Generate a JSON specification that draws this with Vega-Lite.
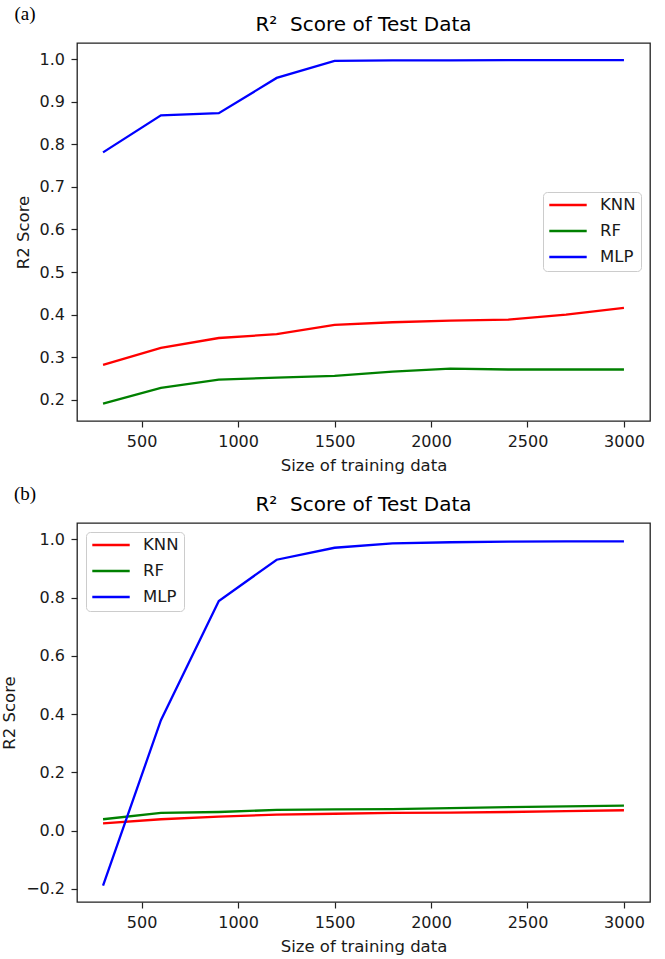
{
  "$schema": "https://vega.github.io/schema/vega-lite/v6.json",
  "background": "white",
  "padding": {"left": 0, "top": 5, "right": 5, "bottom": 0},
  "spacing": 10,
  "datasets": {
    "a": [
      {"size": 300, "model": "KNN", "r2": 0.282}, {"size": 600, "model": "KNN", "r2": 0.322}, {"size": 900, "model": "KNN", "r2": 0.345}, {"size": 1200, "model": "KNN", "r2": 0.354}, {"size": 1500, "model": "KNN", "r2": 0.376}, {"size": 1800, "model": "KNN", "r2": 0.382}, {"size": 2100, "model": "KNN", "r2": 0.386}, {"size": 2400, "model": "KNN", "r2": 0.388}, {"size": 2700, "model": "KNN", "r2": 0.400}, {"size": 3000, "model": "KNN", "r2": 0.416},
      {"size": 300, "model": "RF", "r2": 0.191}, {"size": 600, "model": "RF", "r2": 0.228}, {"size": 900, "model": "RF", "r2": 0.247}, {"size": 1200, "model": "RF", "r2": 0.252}, {"size": 1500, "model": "RF", "r2": 0.256}, {"size": 1800, "model": "RF", "r2": 0.266}, {"size": 2100, "model": "RF", "r2": 0.273}, {"size": 2400, "model": "RF", "r2": 0.271}, {"size": 2700, "model": "RF", "r2": 0.271}, {"size": 3000, "model": "RF", "r2": 0.271},
      {"size": 300, "model": "MLP", "r2": 0.781}, {"size": 600, "model": "MLP", "r2": 0.868}, {"size": 900, "model": "MLP", "r2": 0.873}, {"size": 1200, "model": "MLP", "r2": 0.956}, {"size": 1500, "model": "MLP", "r2": 0.996}, {"size": 1800, "model": "MLP", "r2": 0.997}, {"size": 2100, "model": "MLP", "r2": 0.997}, {"size": 2400, "model": "MLP", "r2": 0.998}, {"size": 2700, "model": "MLP", "r2": 0.998}, {"size": 3000, "model": "MLP", "r2": 0.998}
    ],
    "b": [
      {"size": 300, "model": "KNN", "r2": 0.025}, {"size": 600, "model": "KNN", "r2": 0.039}, {"size": 900, "model": "KNN", "r2": 0.048}, {"size": 1200, "model": "KNN", "r2": 0.055}, {"size": 1500, "model": "KNN", "r2": 0.058}, {"size": 1800, "model": "KNN", "r2": 0.061}, {"size": 2100, "model": "KNN", "r2": 0.062}, {"size": 2400, "model": "KNN", "r2": 0.064}, {"size": 2700, "model": "KNN", "r2": 0.067}, {"size": 3000, "model": "KNN", "r2": 0.070},
      {"size": 300, "model": "RF", "r2": 0.039}, {"size": 600, "model": "RF", "r2": 0.061}, {"size": 900, "model": "RF", "r2": 0.064}, {"size": 1200, "model": "RF", "r2": 0.071}, {"size": 1500, "model": "RF", "r2": 0.073}, {"size": 1800, "model": "RF", "r2": 0.074}, {"size": 2100, "model": "RF", "r2": 0.077}, {"size": 2400, "model": "RF", "r2": 0.081}, {"size": 2700, "model": "RF", "r2": 0.083}, {"size": 3000, "model": "RF", "r2": 0.086},
      {"size": 300, "model": "MLP", "r2": -0.189}, {"size": 600, "model": "MLP", "r2": 0.379}, {"size": 900, "model": "MLP", "r2": 0.788}, {"size": 1200, "model": "MLP", "r2": 0.930}, {"size": 1500, "model": "MLP", "r2": 0.971}, {"size": 1800, "model": "MLP", "r2": 0.986}, {"size": 2100, "model": "MLP", "r2": 0.990}, {"size": 2400, "model": "MLP", "r2": 0.992}, {"size": 2700, "model": "MLP", "r2": 0.993}, {"size": 3000, "model": "MLP", "r2": 0.993}
    ]
  },
  "vconcat": [
    {
      "title": {"text": "(a)", "anchor": "start", "frame": "bounds", "font": "Liberation Serif", "fontSize": 19, "fontWeight": "normal", "color": "black", "offset": -10, "dx": 0},
      "vconcat": [
        {
          "width": 573,
          "height": 378,
          "title": {"text": "R²\u00a0 Score of Test Data", "anchor": "middle", "frame": "group", "font": "DejaVu Sans", "fontSize": 20, "fontWeight": "normal", "color": "black", "offset": 8},
          "data": {"name": "a"},
          "mark": {"type": "line", "strokeWidth": 2.3},
          "encoding": {
            "x": {"field": "size", "type": "quantitative", "scale": {"domain": [165, 3135], "nice": false, "zero": false},
                  "axis": {"values": [500, 1000, 1500, 2000, 2500, 3000], "format": "d", "title": "Size of training data"}},
            "y": {"field": "r2", "type": "quantitative", "scale": {"domain": [0.15, 1.038], "nice": false, "zero": false},
                  "axis": {"values": [0.2, 0.3, 0.4, 0.5, 0.6, 0.7, 0.8, 0.9, 1.0], "format": ".1f", "title": "R2 Score"}},
            "color": {"field": "model", "type": "nominal", "sort": ["KNN", "RF", "MLP"],
                      "scale": {"domain": ["KNN", "RF", "MLP"], "range": ["#ff0000", "#008000", "#0000ff"]},
                      "legend": {"title": null, "orient": "none", "legendX": 466, "legendY": 149}}
          }
        }
      ]
    },
    {
      "title": {"text": "(b)", "anchor": "start", "frame": "bounds", "font": "Liberation Serif", "fontSize": 19, "fontWeight": "normal", "color": "black", "offset": -10, "dx": 13},
      "vconcat": [
        {
          "width": 573,
          "height": 379,
          "title": {"text": "R²\u00a0 Score of Test Data", "anchor": "middle", "frame": "group", "font": "DejaVu Sans", "fontSize": 20, "fontWeight": "normal", "color": "black", "offset": 8},
          "data": {"name": "b"},
          "mark": {"type": "line", "strokeWidth": 2.3},
          "encoding": {
            "x": {"field": "size", "type": "quantitative", "scale": {"domain": [165, 3135], "nice": false, "zero": false},
                  "axis": {"values": [500, 1000, 1500, 2000, 2500, 3000], "format": "d", "title": "Size of training data"}},
            "y": {"field": "r2", "type": "quantitative", "scale": {"domain": [-0.245, 1.056], "nice": false, "zero": false},
                  "axis": {"values": [-0.2, 0.0, 0.2, 0.4, 0.6, 0.8, 1.0], "format": ".1f", "title": "R2 Score"}},
            "color": {"field": "model", "type": "nominal", "sort": ["KNN", "RF", "MLP"],
                      "scale": {"domain": ["KNN", "RF", "MLP"], "range": ["#ff0000", "#008000", "#0000ff"]},
                      "legend": {"title": null, "orient": "top-left", "offset": 9}}
          }
        }
      ]
    }
  ],
  "resolve": {"scale": {"color": "independent"}, "legend": {"color": "independent"}},
  "config": {
    "font": "DejaVu Sans",
    "view": {"stroke": "#222222", "strokeWidth": 1.3},
    "axis": {
      "domain": false, "grid": false, "ticks": true, "tickColor": "#222222", "tickSize": 6, "tickWidth": 1.2,
      "labelFont": "DejaVu Sans", "labelFontSize": 16, "labelColor": "#1a1a1a", "labelPadding": 6.5,
      "titleFont": "DejaVu Sans", "titleFontSize": 16.5, "titleFontWeight": "normal", "titleColor": "#1a1a1a", "titlePadding": 8
    },
    "legend": {
      "symbolType": "stroke", "symbolSize": 1400, "symbolStrokeWidth": 2.4, "clipHeight": 16,
      "labelFont": "DejaVu Sans", "labelFontSize": 16.5, "labelColor": "#1a1a1a", "labelOffset": 12,
      "padding": 5, "rowPadding": 9, "fillColor": "white", "strokeColor": "#cccccc", "cornerRadius": 4
    }
  }
}
